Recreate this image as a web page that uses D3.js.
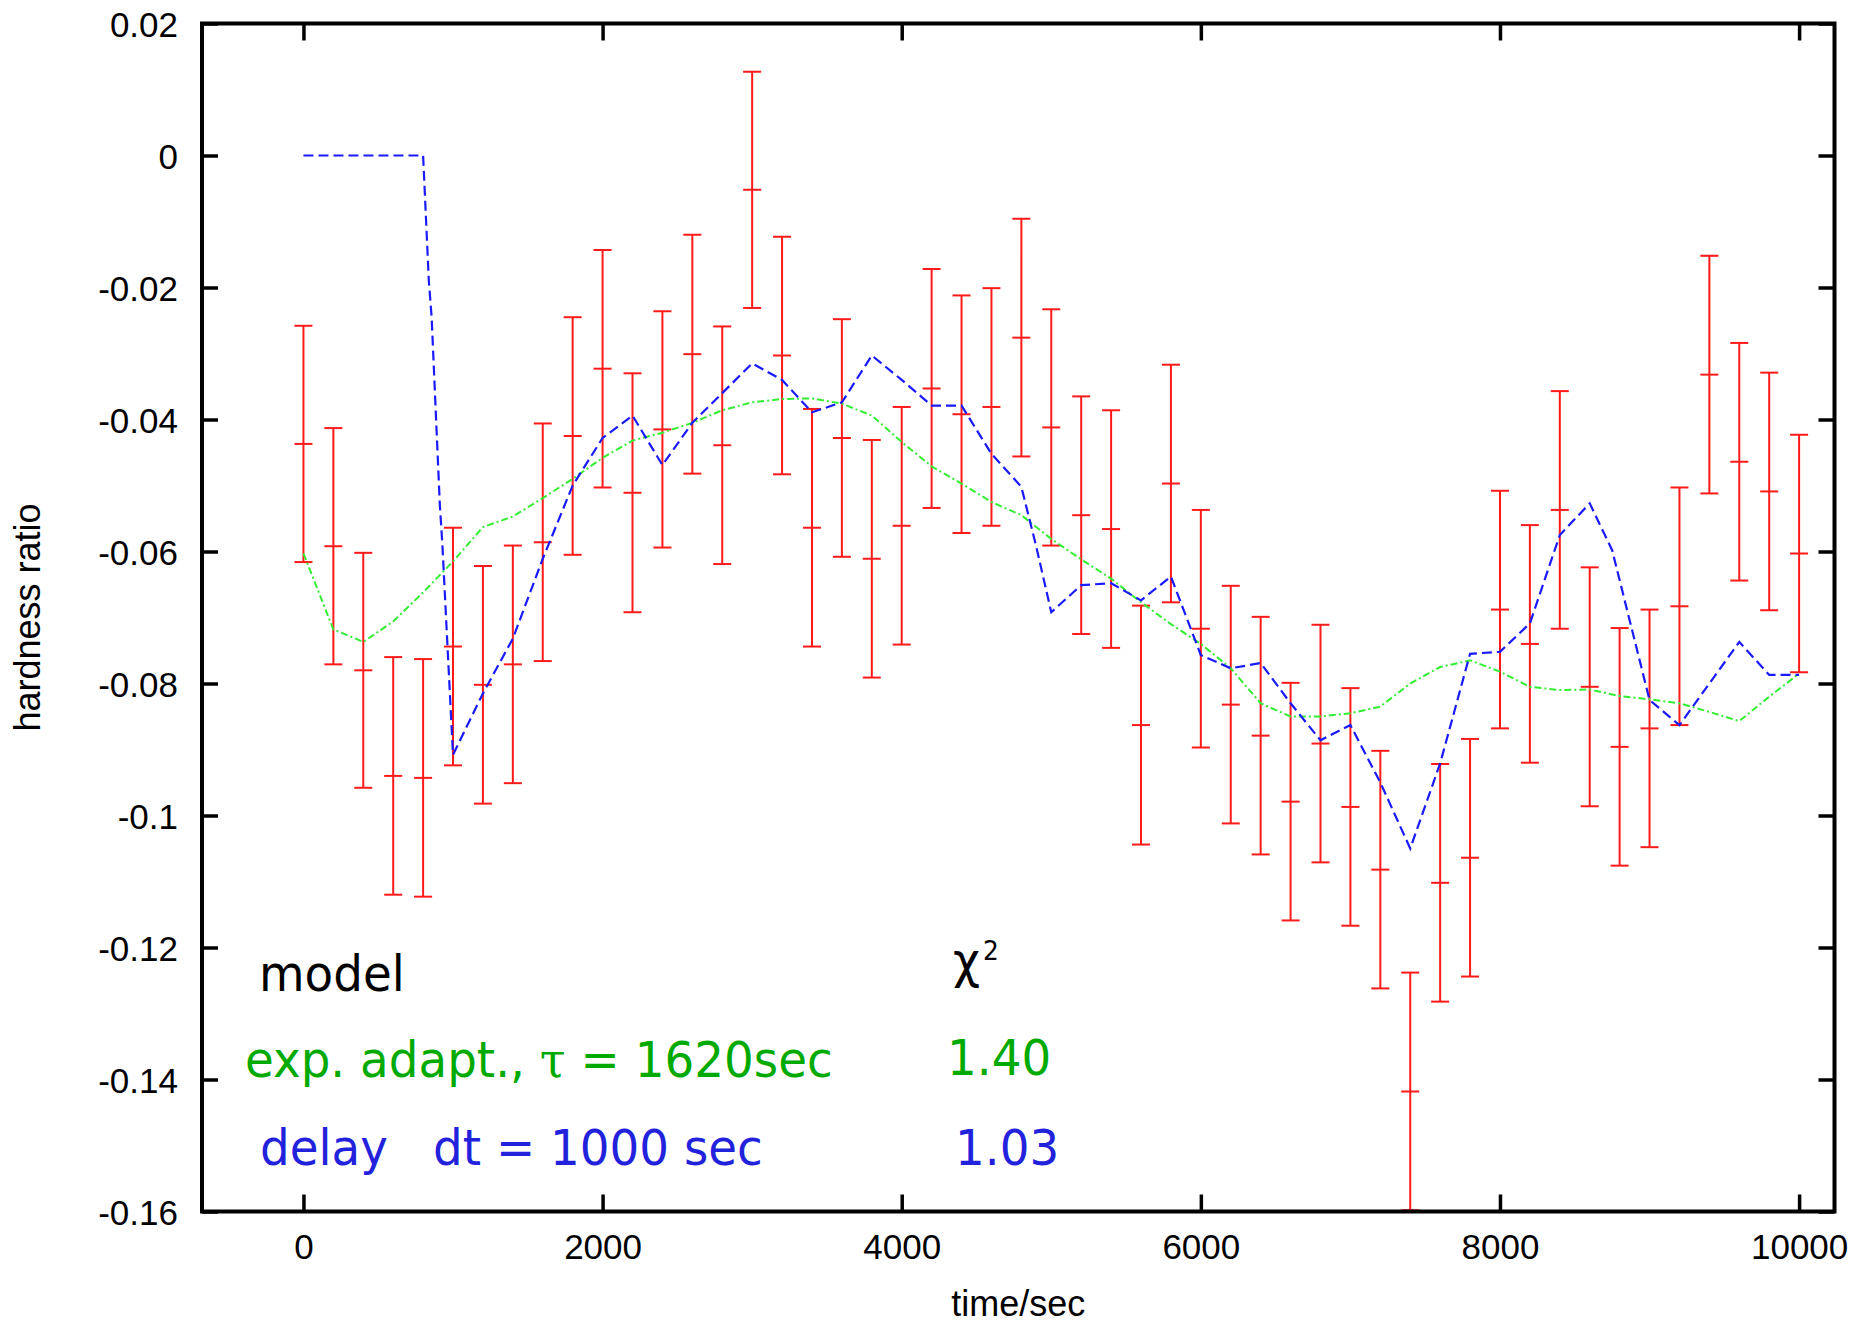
<!DOCTYPE html>
<html>
<head>
<meta charset="utf-8">
<script src="https://cdn.jsdelivr.net/npm/d3@7"></script>
<style>
  html, body { margin: 0; padding: 0; background: #fff; }
  svg { display: block; }
</style>
</head>
<body>
<svg id="chart" width="1862" height="1326"></svg>
<script>
// ---------------- data ----------------
const dataX = [0,200,400,600,800,1000,1200,1400,1600,1800,2000,2200,2400,2600,2800,3000,3200,3400,3600,3800,4000,4200,4400,4600,4800,5000,5200,5400,5600,5800,6000,6200,6400,6600,6800,7000,7200,7400,7600,7800,8000,8200,8400,8600,8800,9000,9200,9400,9600,9800,10000];
const dataY = [-0.0437,-0.0592,-0.0780,-0.0940,-0.0943,-0.0744,-0.0802,-0.0771,-0.0586,-0.0425,-0.0323,-0.0511,-0.0415,-0.0301,-0.0439,-0.0052,-0.0303,-0.0564,-0.0428,-0.0611,-0.0561,-0.0353,-0.0392,-0.0381,-0.0276,-0.0412,-0.0545,-0.0566,-0.0863,-0.0497,-0.0717,-0.0832,-0.0879,-0.0979,-0.0891,-0.0987,-0.1082,-0.1418,-0.1102,-0.1064,-0.0688,-0.0740,-0.0537,-0.0805,-0.0896,-0.0868,-0.0683,-0.0332,-0.0464,-0.0509,-0.0603];
const dataErr = [0.0179,0.0179,0.0178,0.0180,0.0180,0.0180,0.0180,0.0180,0.0180,0.0180,0.0180,0.0181,0.0179,0.0181,0.0180,0.0179,0.0180,0.0180,0.0180,0.0180,0.0180,0.0181,0.0180,0.0180,0.0180,0.0179,0.0180,0.0180,0.0181,0.0180,0.0180,0.0180,0.0180,0.0180,0.0180,0.0180,0.0180,0.0180,0.0180,0.0180,0.0180,0.0180,0.0180,0.0181,0.0180,0.0180,0.0180,0.0180,0.0180,0.0180,0.0180];

// exponential adaptation model (green)
const expX = [0,200,400,600,800,1000,1200,1400,1600,1800,2000,2200,2400,2600,2800,3000,3200,3400,3600,3800,4000,4200,4400,4600,4800,5000,5200,5400,5600,5800,6000,6200,6400,6600,6800,7000,7200,7400,7600,7800,8000,8200,8400,8600,8800,9000,9200,9400,9600,9800,10000];
const expY = [-0.0603,-0.0718,-0.0737,-0.0706,-0.0662,-0.0615,-0.0563,-0.0547,-0.0519,-0.0490,-0.0458,-0.0432,-0.0420,-0.0405,-0.0386,-0.0374,-0.0369,-0.0368,-0.0376,-0.0394,-0.0434,-0.0471,-0.0497,-0.0525,-0.0545,-0.0581,-0.0612,-0.0641,-0.0677,-0.0710,-0.0740,-0.0777,-0.0830,-0.0850,-0.0850,-0.0845,-0.0835,-0.0800,-0.0775,-0.0765,-0.0782,-0.0805,-0.0810,-0.0809,-0.0819,-0.0824,-0.0830,-0.0843,-0.0857,-0.0820,-0.0785];

// delay model (blue)
const delayX = [0,800,838,857,912,928,979,1000,1200,1400,1600,1800,2000,2200,2400,2600,2800,3000,3200,3400,3600,3800,4000,4200,4400,4600,4800,4900,5000,5200,5400,5600,5800,6000,6200,6400,6600,6800,7000,7200,7400,7600,7800,8000,8200,8400,8600,8750,9000,9200,9400,9600,9800,10000];
const delayY = [0,0,-0.0189,-0.0245,-0.0530,-0.0586,-0.0815,-0.0908,-0.0815,-0.0732,-0.0611,-0.0500,-0.0428,-0.0394,-0.0469,-0.0405,-0.0360,-0.0315,-0.0340,-0.0389,-0.0374,-0.0303,-0.0340,-0.0379,-0.0379,-0.0452,-0.0502,-0.0593,-0.0692,-0.0651,-0.0648,-0.0674,-0.0638,-0.0757,-0.0777,-0.0769,-0.0830,-0.0886,-0.0863,-0.0950,-0.1050,-0.0921,-0.0755,-0.0752,-0.0709,-0.0575,-0.0527,-0.0598,-0.0825,-0.0863,-0.0800,-0.0737,-0.0787,-0.0787];

const xTicks = [0,2000,4000,6000,8000,10000];
const xTickLabels = ["0","2000","4000","6000","8000","10000"];
const yTicks = [0.02,0,-0.02,-0.04,-0.06,-0.08,-0.1,-0.12,-0.14,-0.16];
const yTickLabels = ["0.02","0","-0.02","-0.04","-0.06","-0.08","-0.1","-0.12","-0.14","-0.16"];

const xTitle = "time/sec";
const yTitle = "hardness ratio";
const legendHeader = "model";
const chiLabel = "\u03C7";
const expName = ["exp. adapt., ", "\u03C4", " = 1620sec"];
const delayName = ["delay", "dt = 1000 sec"];
const chiValues = ["1.40", "1.03"];

// ---------------- drawing ----------------
const svg = d3.select("#chart");
const L = 202, R = 1834.5, T = 23.5, B = 1211.5;

const x = d3.scaleLinear().domain([-685, 10240]).range([201, 1835]);
const y = d3.scaleLinear().domain([-0.16, 0.02]).range([B, T]);

svg.append("defs").append("clipPath").attr("id", "plotclip")
  .append("rect").attr("x", L).attr("y", T).attr("width", R - L).attr("height", B - T);

const tickFont = "'Liberation Sans', Arial, Helvetica, sans-serif";

function styleAxis(g) {
  g.select(".domain").remove();
  g.selectAll(".tick line").attr("stroke", "#000").attr("stroke-width", 3.5);
  g.selectAll(".tick text").attr("fill", "#000")
    .style("font-family", tickFont).style("font-size", "35px");
}

const gLeft = svg.append("g").attr("transform", `translate(${L},0)`)
  .call(d3.axisLeft(y).tickValues(yTicks).tickFormat((d, i) => yTickLabels[i])
    .tickSizeInner(-16).tickSizeOuter(0).tickPadding(24));
styleAxis(gLeft);
gLeft.selectAll(".tick text").attr("dy", "0.36em");

const gRight = svg.append("g").attr("transform", `translate(${R},0)`)
  .call(d3.axisRight(y).tickValues(yTicks).tickFormat("").tickSizeInner(-16).tickSizeOuter(0));
styleAxis(gRight);

const gBottom = svg.append("g").attr("transform", `translate(0,${B})`)
  .call(d3.axisBottom(x).tickValues(xTicks).tickFormat((d, i) => xTickLabels[i])
    .tickSizeInner(-17).tickSizeOuter(0));
styleAxis(gBottom);
gBottom.selectAll(".tick text").attr("dy", null).attr("y", 47.5);

const gTop = svg.append("g").attr("transform", `translate(0,${T})`)
  .call(d3.axisTop(x).tickValues(xTicks).tickFormat("").tickSizeInner(-17).tickSizeOuter(0));
styleAxis(gTop);

// plot content
const plot = svg.append("g").attr("clip-path", "url(#plotclip)");

const pts = dataX.map((d, i) => ({ x: d, y: dataY[i], e: dataErr[i] }));
const eb = plot.append("g").attr("stroke", "#ff1a1a").attr("stroke-width", 2).attr("fill", "none");
const capW = 9;
pts.forEach(p => {
  const cx = x(p.x);
  eb.append("line").attr("x1", cx).attr("x2", cx).attr("y1", y(p.y + p.e)).attr("y2", y(p.y - p.e));
  [p.y + p.e, p.y, p.y - p.e].forEach(v => {
    eb.append("line").attr("x1", cx - capW).attr("x2", cx + capW).attr("y1", y(v)).attr("y2", y(v));
  });
});

const line = d3.line().x(d => x(d[0])).y(d => y(d[1]));

plot.append("path")
  .datum(expX.map((d, i) => [d, expY[i]]))
  .attr("d", line).attr("fill", "none")
  .attr("stroke", "#33ee33").attr("stroke-width", 2)
  .attr("stroke-dasharray", "7,3,2,3");

plot.append("path")
  .datum(delayX.map((d, i) => [d, delayY[i]]))
  .attr("d", line).attr("fill", "none")
  .attr("stroke", "#1a1aff").attr("stroke-width", 2.2)
  .attr("stroke-dasharray", "10,5");

// frame
svg.append("rect").attr("x", L).attr("y", T).attr("width", R - L).attr("height", B - T)
  .attr("fill", "none").attr("stroke", "#000").attr("stroke-width", 4);

// axis titles
svg.append("text").attr("x", (L + R) / 2).attr("y", 1316).attr("text-anchor", "middle")
  .style("font-family", tickFont).style("font-size", "36px").text(xTitle);
svg.append("text").attr("transform", `translate(40,${(T + B) / 2}) rotate(-90)`)
  .attr("text-anchor", "middle")
  .style("font-family", tickFont).style("font-size", "36px").text(yTitle);

// legend table
const legFont = "'DejaVu Sans', Verdana, sans-serif";
const SX = 0.955;
const leg = svg.append("g").style("font-family", legFont).style("font-size", "49px");
function legText(px, py, color) {
  return leg.append("text").attr("transform", `translate(${px},${py}) scale(${SX},1)`)
    .attr("x", 0).attr("y", 0).attr("fill", color).style("white-space", "pre");
}
legText(259, 991, "#000").text(legendHeader);
const chi = legText(953, 978, "#000");
chi.append("tspan").text(chiLabel);
chi.append("tspan").attr("dx", 3).attr("dy", -18).style("font-size", "26px").text("2");

const g1 = legText(245, 1077, "#00aa00");
g1.append("tspan").text(expName[0]);
g1.append("tspan").style("font-family", "'DejaVu Serif', serif").text(expName[1]);
g1.append("tspan").text(expName[2]);
legText(947, 1075, "#00aa00").text(chiValues[0]);

legText(260, 1165, "#2222dd").text(delayName[0]);
legText(433, 1165, "#2222dd").text(delayName[1]);
legText(955, 1165, "#2222dd").text(chiValues[1]);
</script>
</body>
</html>
